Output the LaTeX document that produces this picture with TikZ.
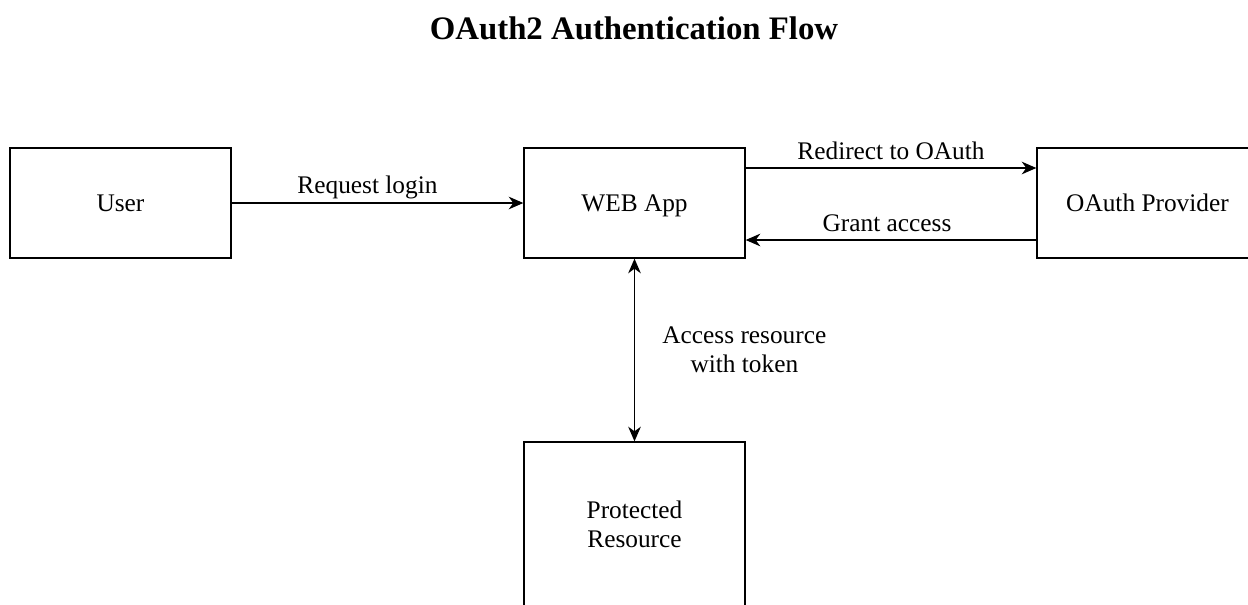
\documentclass[tikz,border=0pt]{standalone}
\usepackage{fontspec}
\setmainfont{Liberation Serif}
\usetikzlibrary{arrows.meta}
\tikzset{
	box/.style = {draw, line width=1pt, minimum width=165.75pt, minimum height=82.5pt, font=\fontsize{19}{22}\selectfont, align=center},
	flow/.style = {line width=0.9pt, -{Stealth[length=11pt, width=9.5pt, inset=3.5pt]}},
	tag/.style = {font=\fontsize{19}{22}\selectfont, inner sep=0pt, align=center}
}

\begin{document}
\begin{tikzpicture}[x=0.75pt, y=-0.75pt]
	\useasboundingbox (0,0) rectangle (1248,604);

	\node [font=\bfseries\fontsize{24.6}{28}\selectfont] (title) at (634,28) {OAuth2 Authentication Flow};

	% boxes
	\node [box] (user) at (120.5,203) {User};
	\node [box, text depth=0pt] (web) at (634.5,203) {WEB App};
	\node [box] (oauth) at (1147.5,203) {OAuth Provider};
	\node [box, minimum height=123pt] (res) at (634.5,524) {Protected\\Resource};

	% flows
	\draw [flow] (user) -- node [tag, above=7pt, xshift=-7.5pt, text depth=0pt] {Request login} (web);
	\draw [flow] ([yshift=26.25pt]web.east) -- node [tag, above=6pt, text depth=0pt] {Redirect to OAuth} ([yshift=26.25pt]oauth.west);
	\draw [flow] ([yshift=-27.75pt]oauth.west) -- node [tag, above=6pt, xshift=-3pt, text depth=0pt] {Grant access} ([yshift=-27.75pt]web.east);
	\draw [flow, {Stealth[length=11pt, width=9.5pt, inset=3.5pt]}-{Stealth[length=11pt, width=9.5pt, inset=3.5pt]}] (web) -- node [tag, right=20.5pt] {Access resource\\with token} (res);
\end{tikzpicture}
\end{document}
